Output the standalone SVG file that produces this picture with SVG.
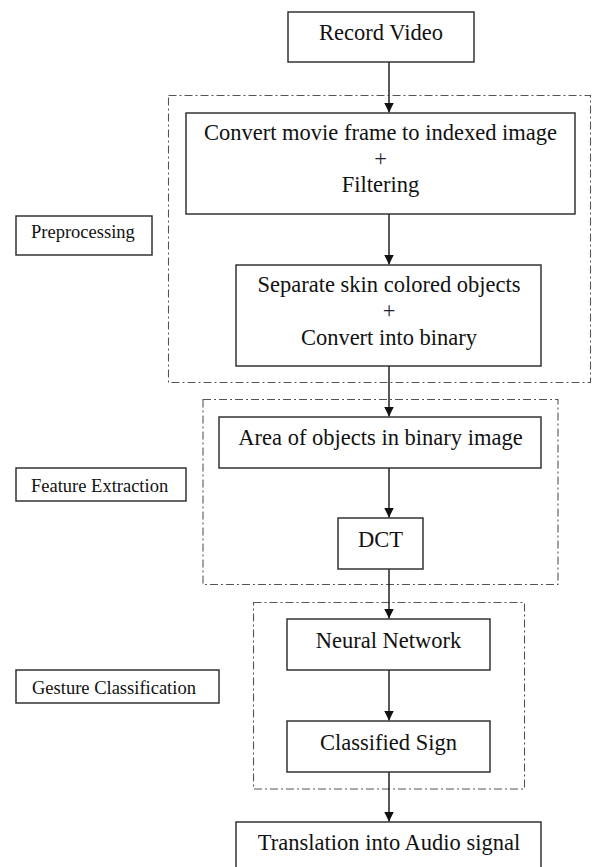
<svg xmlns="http://www.w3.org/2000/svg" width="592" height="867" viewBox="0 0 592 867">
<style>
.box{fill:#fff;stroke:#333;stroke-width:1.5}
.grp{fill:none;stroke:#555;stroke-width:1.1;stroke-dasharray:8 3 2 3}
.t{font-family:"Liberation Serif","Times New Roman",serif;font-size:22.5px;fill:#111;text-anchor:middle}
.p{font-family:"Liberation Serif","Times New Roman",serif;font-size:22.5px;fill:#223;text-anchor:middle}
.l{font-family:"Liberation Serif","Times New Roman",serif;font-size:18.5px;fill:#111}
.c{stroke:#222;stroke-width:1.5;fill:none;marker-end:url(#ah)}
</style>
<defs>
<marker id="ah" markerWidth="10" markerHeight="10" refX="10" refY="5" orient="auto" markerUnits="userSpaceOnUse">
<path d="M0,0 L10,5 L0,10 Z" fill="#111"/>
</marker>
</defs>
<rect width="592" height="867" fill="#fff"/>
<g id="groups">
<rect id="grp-preprocessing" class="grp" x="168.5" y="95.5" width="422" height="287"/>
<rect id="grp-feature" class="grp" x="203" y="399.5" width="355" height="185"/>
<rect id="grp-gesture" class="grp" x="253.5" y="602.5" width="271" height="186.5"/>
</g>
<g id="connectors">
<line class="c" x1="389" y1="62" x2="389" y2="112.5"/>
<line class="c" x1="389" y1="214" x2="389" y2="264.5"/>
<line class="c" x1="389" y1="366" x2="389" y2="416.5"/>
<line class="c" x1="389" y1="468" x2="389" y2="517.5"/>
<line class="c" x1="389" y1="569" x2="389" y2="618.5"/>
<line class="c" x1="389" y1="670" x2="389" y2="720.5"/>
<line class="c" x1="389" y1="772" x2="389" y2="821.5"/>
</g>
<g id="record-video">
<rect class="box" x="288" y="12" width="186" height="50"/>
<text class="t" x="381" y="40">Record Video</text>
</g>
<g id="convert-frame">
<rect class="box" x="186" y="113" width="389" height="101"/>
<text class="t" x="380.5" y="140">Convert movie frame to indexed image</text>
<text class="p" x="380.5" y="166">+</text>
<text class="t" x="380.5" y="192">Filtering</text>
</g>
<g id="separate-skin">
<rect class="box" x="236" y="265" width="305" height="101"/>
<text class="t" x="389" y="292">Separate skin colored objects</text>
<text class="p" x="389" y="318">+</text>
<text class="t" x="389" y="345">Convert into binary</text>
</g>
<g id="area-objects">
<rect class="box" x="219" y="417" width="322" height="51"/>
<text class="t" x="380.5" y="445">Area of objects in binary image</text>
</g>
<g id="dct">
<rect class="box" x="338" y="518" width="85" height="51"/>
<text class="t" x="380.5" y="547">DCT</text>
</g>
<g id="neural-network">
<rect class="box" x="287" y="619" width="203" height="51"/>
<text class="t" x="388.5" y="648">Neural Network</text>
</g>
<g id="classified-sign">
<rect class="box" x="287" y="721" width="203" height="51"/>
<text class="t" x="388.5" y="750">Classified Sign</text>
</g>
<g id="translation">
<rect class="box" x="236" y="822" width="305" height="60"/>
<text class="t" x="389" y="850">Translation into Audio signal</text>
</g>
<g id="label-preprocessing">
<rect class="box" x="16" y="216" width="136" height="39"/>
<text class="l" x="31" y="238">Preprocessing</text>
</g>
<g id="label-feature">
<rect class="box" x="16" y="468" width="170" height="33"/>
<text class="l" x="31" y="492">Feature Extraction</text>
</g>
<g id="label-gesture">
<rect class="box" x="16" y="670" width="203" height="33"/>
<text class="l" x="32" y="694">Gesture Classification</text>
</g>
</svg>
